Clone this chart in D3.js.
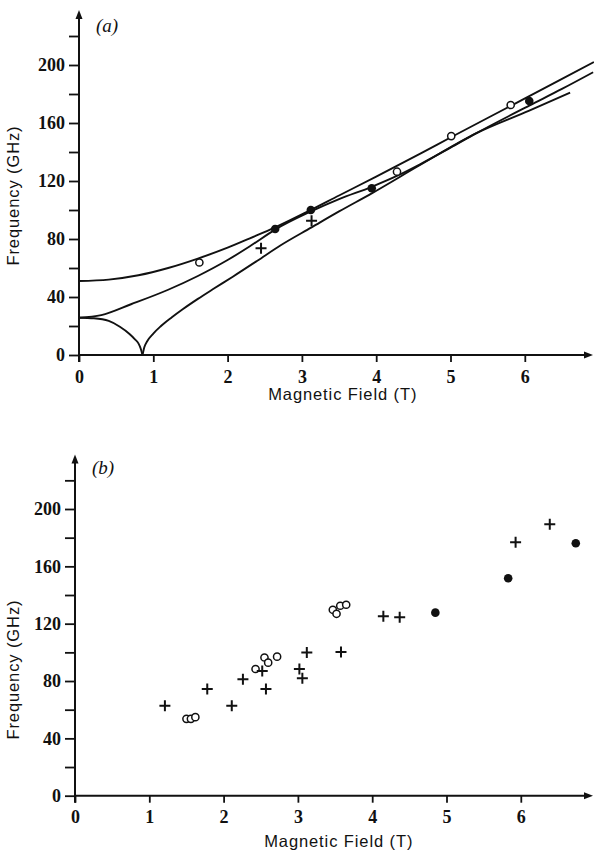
<!DOCTYPE html>
<html>
<head>
<meta charset="utf-8">
<script src="https://cdn.jsdelivr.net/npm/d3@7"></script>
<style>
  body { margin: 0; background: #fff; }
  svg { display: block; }
  .title { font-family: "Liberation Sans", Arial, sans-serif; font-size: 16.5px; letter-spacing: 0.9px; fill: #111; }
  .panel-label { font-family: "Liberation Serif", serif; font-style: italic; font-size: 19px; fill: #111; }
</style>
</head>
<body>
<div id="chart"></div>
<script>
// ---- panel (a): fitted curves, [field (T), frequency (GHz)]
const upperCurve = [[0,51],[0.4,52],[0.8,55],[1.2,60],[1.6,66.5],[2.0,74],[2.3,80.5],[2.64,88],
  [3.1,99.5],[3.5,110],[4.0,123],[4.6,139],[5.0,150],[5.8,171.5],[6.45,189],[6.93,202]];
const middleCurve = [[0,25.7],[0.3,27.5],[0.7,35],[1.2,45],[1.6,54.5],[2.0,65.5],[2.3,75],[2.64,86.5],
  [3.1,98.5],[3.5,107.5],[3.94,116],[4.3,124],[4.59,131.5],[5.0,143],[5.35,153],[6.06,172],[6.5,183.5],[6.92,195]];
const lowerCurveLeft = [[0,25.7],[0.2,25.3],[0.4,23.5],[0.55,19.5],[0.68,14.5],[0.75,11],[0.8,8],[0.83,4.5],[0.855,0]];
const lowerCurveRight = [[0.855,0],[0.88,5.5],[0.92,9.7],[1.0,14.8],[1.1,19.8],[1.25,26],[1.4,31.7],[1.6,38.7],
  [1.8,45.3],[2.07,54],[2.4,65],[2.71,75.5],[3.13,88],[3.5,99],[3.94,111.5],[4.59,131],[5.35,153],[6.06,168.5],[6.61,181]];

// ---- panel (a): measured points
const openA = [[1.62,63.8],[4.28,126.4],[5.01,151],[5.81,172.4]];
const filledA = [[2.64,86.9],[3.12,100],[3.94,115],[6.06,175.2]];
const plusA = [[2.45,73.6],[3.13,92.6]];

// ---- panel (b): measured points
const openB = [[1.50,53.6],[1.56,53.6],[1.62,54.8],[2.43,88.4],[2.55,96.4],[2.6,92.8],[2.72,97],
  [3.47,129.7],[3.52,126.9],[3.57,132.5],[3.65,133.2]];
const filledB = [[4.85,127.7],[5.83,151.7],[6.74,176.1]];
const plusB = [[1.21,62.8],[1.78,74.5],[2.11,62.8],[2.26,81.2],[2.52,87],[2.57,74.5],[3.02,88.4],
  [3.06,81.9],[3.12,99.9],[3.58,100.2],[4.15,125.2],[4.37,124.5],[5.93,176.8],[6.39,189.4]];

// ---- axes
const xTicks = [0,1,2,3,4,5,6];
const yMajor = [0,40,80,120,160,200];
const yMinor = [20,60,100,140,180,220];

const W = 594, H = 856;
const svg = d3.select('#chart').append('svg').attr('width', W).attr('height', H);

function styleAxis(a) {
  a.select('.domain').remove();
  a.selectAll('.tick line').attr('stroke', '#111').attr('stroke-width', 1.8);
  a.selectAll('.tick text')
    .attr('font-family', '"Liberation Serif", "DejaVu Serif", serif')
    .attr('font-weight', 'bold').attr('font-size', 18).attr('fill', '#111');
}

function drawPanel(cfg) {
  const x = d3.scaleLinear().domain([0, 7]).range([cfg.x0, cfg.x0 + 7 * cfg.xUnit]);
  const y = d3.scaleLinear().domain([0, 200]).range([cfg.y0, cfg.y200]);
  const g = svg.append('g');

  // y axis: major ticks with labels, minor without
  g.append('g').attr('transform', `translate(${x(0)},0)`)
    .call(d3.axisLeft(y).tickValues(yMajor).tickSize(10).tickPadding(4).tickSizeOuter(0))
    .call(styleAxis);
  g.append('g').attr('transform', `translate(${x(0)},0)`)
    .call(d3.axisLeft(y).tickValues(yMinor).tickSize(10).tickFormat('').tickSizeOuter(0))
    .call(styleAxis);

  // x axis
  g.append('g').attr('transform', `translate(0,${y(0)})`)
    .call(d3.axisBottom(x).tickValues(xTicks).tickFormat(d3.format('d'))
      .tickSize(7).tickPadding(8).tickSizeOuter(0))
    .call(styleAxis);

  // axis lines with arrowheads
  const yTop = y(238);
  g.append('line').attr('x1', x(0)).attr('x2', x(0)).attr('y1', y(0) + 7).attr('y2', yTop + 4)
    .attr('stroke', '#111').attr('stroke-width', 2);
  g.append('path').attr('d', `M${x(0)},${yTop} l-3.5,9 l7,0 z`).attr('fill', '#111');
  const xEnd = W - 1;
  g.append('line').attr('x1', x(0)).attr('x2', xEnd - 4).attr('y1', y(0)).attr('y2', y(0))
    .attr('stroke', '#111').attr('stroke-width', 2);
  g.append('path').attr('d', `M${xEnd},${y(0)} l-9,-3.5 l0,7 z`).attr('fill', '#111');

  // titles
  g.append('text').attr('class', 'title')
    .attr('transform', `translate(${cfg.ylabX},${y(cfg.ylabF)}) rotate(-90)`)
    .attr('text-anchor', 'middle').text('Frequency (GHz)');
  g.append('text').attr('class', 'title')
    .attr('x', x(3.55)).attr('y', y(0) + cfg.xlabDy)
    .attr('text-anchor', 'middle').text('Magnetic Field (T)');
  g.append('text').attr('class', 'panel-label')
    .attr('x', x(0) + 17).attr('y', y(0) + cfg.labDy).text(cfg.label);

  // curves
  const line = d3.line().x(d => x(d[0])).y(d => y(d[1])).curve(d3.curveMonotoneX);
  (cfg.curves || []).forEach(c => {
    g.append('path').attr('d', line(c)).attr('fill', 'none')
      .attr('stroke', '#111').attr('stroke-width', 1.9);
  });

  // markers
  g.selectAll('.open').data(cfg.open).join('circle').attr('class', 'open')
    .attr('cx', d => x(d[0])).attr('cy', d => y(d[1])).attr('r', 3.6)
    .attr('fill', '#fff').attr('stroke', '#111').attr('stroke-width', 1.5);
  g.selectAll('.filled').data(cfg.filled).join('circle').attr('class', 'filled')
    .attr('cx', d => x(d[0])).attr('cy', d => y(d[1])).attr('r', 4.3).attr('fill', '#111');
  g.selectAll('.plus').data(cfg.plus).join('path').attr('class', 'plus')
    .attr('d', d => `M${x(d[0]) - 5.5},${y(d[1])} h11 M${x(d[0])},${y(d[1]) - 5.5} v11`)
    .attr('stroke', '#111').attr('stroke-width', 2).attr('fill', 'none');
}

drawPanel({
  x0: 79, xUnit: 74.3, y0: 355, y200: 65,
  ylabX: 19, ylabF: 110, xlabDy: 45, labDy: -323, label: '(a)',
  curves: [upperCurve, middleCurve, lowerCurveLeft, lowerCurveRight],
  open: openA, filled: filledA, plus: plusA
});

drawPanel({
  x0: 75, xUnit: 74.3, y0: 795.7, y200: 509,
  ylabX: 19, ylabF: 88, xlabDy: 51, labDy: -322, label: '(b)',
  curves: [],
  open: openB, filled: filledB, plus: plusB
});
</script>
</body>
</html>
